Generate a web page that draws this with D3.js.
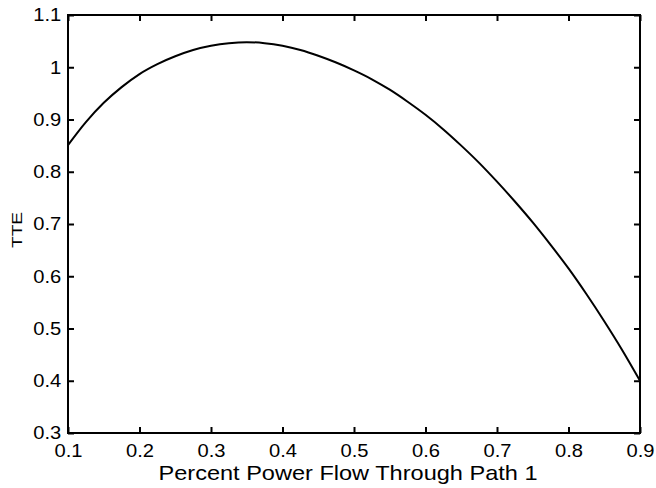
<!DOCTYPE html>
<html>
<head>
<meta charset="utf-8">
<script src="https://cdn.jsdelivr.net/npm/d3@7"></script>
<style>
  body { margin: 0; background: #fff; }
  text { font-family: "Liberation Sans", Arial, sans-serif; fill: #000; }
</style>
</head>
<body>
<svg id="chart" width="656" height="488"></svg>
<script>
// share of power through path 1
const pct = [0.1, 0.125, 0.15, 0.175, 0.2, 0.225, 0.25, 0.275, 0.3, 0.325, 0.35,
  0.375, 0.4, 0.425, 0.45, 0.475, 0.5, 0.525, 0.55, 0.575, 0.6, 0.625, 0.65,
  0.675, 0.7, 0.725, 0.75, 0.775, 0.8, 0.825, 0.85, 0.875, 0.9]
const tte = [0.851, 0.895, 0.932, 0.962, 0.987, 1.006, 1.021, 1.033, 1.041, 1.046, 1.048,
  1.046, 1.041, 1.033, 1.022, 1.009, 0.994, 0.977, 0.957, 0.934, 0.909, 0.881, 0.850,
  0.817, 0.781, 0.743, 0.703, 0.660, 0.615, 0.566, 0.514, 0.459, 0.400]
const xTicks = [0.1, 0.2, 0.3, 0.4, 0.5, 0.6, 0.7, 0.8, 0.9]
const yTicks = [0.3, 0.4, 0.5, 0.6, 0.7, 0.8, 0.9, 1, 1.1]

const mLeft = 68, mRight = 640, mTop = 15, mBottom = 433

const svg = d3.select('#chart')
const x = d3.scaleLinear().domain([0.1, 0.9]).range([mLeft, mRight])
const y = d3.scaleLinear().domain([0.3, 1.1]).range([mBottom, mTop])

const fmt = d => d3.format('~g')(d)

function styleAxis(g) {
  g.select('.domain').remove()
  g.selectAll('line').attr('stroke', '#000').attr('stroke-width', 2)
  g.selectAll('text').attr('font-size', 18).attr('fill', '#000')
}

// bottom axis, ticks pointing inward
svg.append('g')
  .attr('transform', `translate(0,${mBottom})`)
  .call(d3.axisBottom(x).tickValues(xTicks).tickFormat(fmt).tickSizeInner(-6).tickPadding(13))
  .call(styleAxis)
  .call(g => g.selectAll('text').attr('transform', 'scale(1.12,1)').attr('dy', '0.6em'))

// left axis
svg.append('g')
  .attr('transform', `translate(${mLeft},0)`)
  .call(d3.axisLeft(y).tickValues(yTicks).tickFormat(fmt).tickSizeInner(-6).tickPadding(14))
  .call(styleAxis)
  .call(g => g.selectAll('text').attr('x', -6).attr('transform', 'scale(1.12,1)'))

// top and right ticks only
svg.append('g')
  .attr('transform', `translate(0,${mTop})`)
  .call(d3.axisTop(x).tickValues(xTicks).tickFormat('').tickSizeInner(-6))
  .call(styleAxis)
svg.append('g')
  .attr('transform', `translate(${mRight},0)`)
  .call(d3.axisRight(y).tickValues(yTicks).tickFormat('').tickSizeInner(-6))
  .call(styleAxis)

// box
svg.append('rect')
  .attr('x', mLeft).attr('y', mTop)
  .attr('width', mRight - mLeft).attr('height', mBottom - mTop)
  .attr('fill', 'none').attr('stroke', '#000').attr('stroke-width', 2)

// curve
const line = d3.line().x((d, i) => x(pct[i])).y(d => y(d)).curve(d3.curveMonotoneX)
svg.append('path')
  .datum(tte)
  .attr('d', line)
  .attr('fill', 'none')
  .attr('stroke', '#000')
  .attr('stroke-width', 2)
  .attr('stroke-linejoin', 'round')

// labels
svg.append('text')
  .attr('x', 348).attr('y', 480)
  .attr('text-anchor', 'middle')
  .attr('font-size', 21)
  .attr('fill', '#000')
  .attr('textLength', 379)
  .attr('lengthAdjust', 'spacingAndGlyphs')
  .text('Percent Power Flow Through Path 1')

svg.append('text')
  .attr('transform', 'translate(22,230) rotate(-90)')
  .attr('text-anchor', 'middle')
  .attr('font-size', 15)
  .attr('fill', '#000')
  .attr('textLength', 36)
  .attr('lengthAdjust', 'spacingAndGlyphs')
  .text('TTE')
</script>
</body>
</html>
